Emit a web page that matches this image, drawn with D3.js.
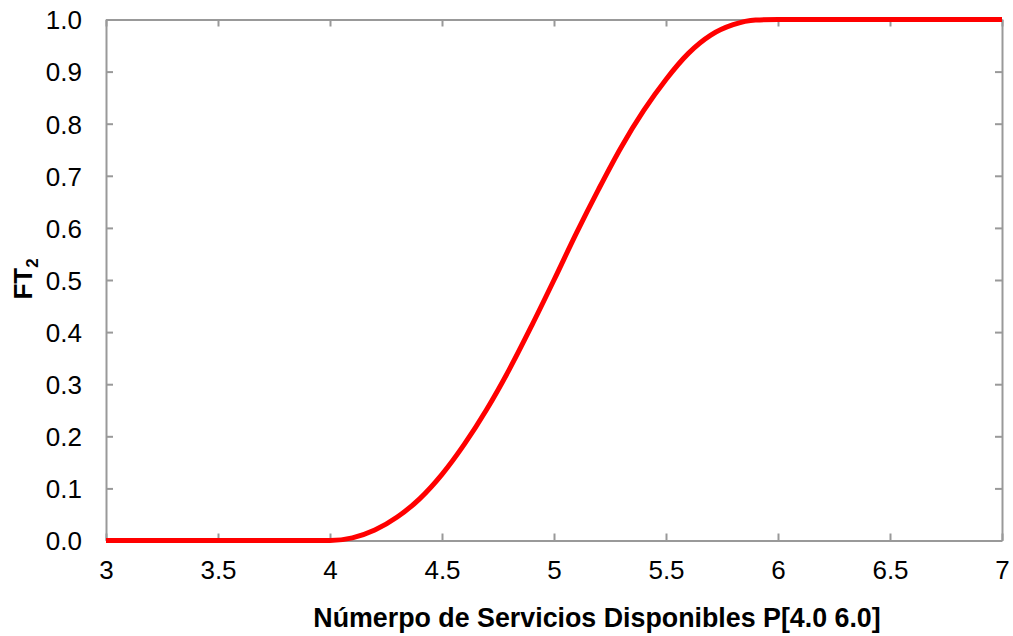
<!DOCTYPE html>
<html>
<head>
<meta charset="utf-8">
<script src="https://cdn.jsdelivr.net/npm/d3@7"></script>
<style>
  body { margin: 0; background: #fff; }
  svg { display: block; font-family: "Liberation Sans", Arial, sans-serif; }
  .axis path, .axis line { stroke: #999; stroke-width: 2; }
  .axis text { fill: #000; font-size: 26px; }
</style>
</head>
<body>
<script>
	var width = 1013;
	var height = 636;

	// values
	var xValues = [3, 3.5, 4, 4.1, 4.2, 4.3, 4.4, 4.5, 4.6, 4.7, 4.8, 4.9, 5, 5.1, 5.2, 5.3, 5.4, 5.5, 5.6, 5.7, 5.8, 5.9, 6, 6.5, 7];
	var ftValues = [0, 0, 0, 0.005, 0.02, 0.045, 0.08, 0.127, 0.185, 0.252, 0.328, 0.412, 0.5, 0.59, 0.675, 0.755, 0.825, 0.885, 0.935, 0.97, 0.99, 0.999, 1, 1, 1];
	var xTicks = [3, 3.5, 4, 4.5, 5, 5.5, 6, 6.5, 7];
	var yTicks = [0, 0.1, 0.2, 0.3, 0.4, 0.5, 0.6, 0.7, 0.8, 0.9, 1];
	var xTitle = "Númerpo de Servicios Disponibles P[4.0 6.0]";

	var margin = { left: 106, right: 11, top: 19.5, bottom: 95.5 };

	var svg = d3.select("body")
		.append("svg")
		.attr("width", width)
		.attr("height", height);

	var x = d3.scaleLinear()
		.domain([3, 7])
		.range([margin.left, width - margin.right]);

	var y = d3.scaleLinear()
		.domain([0, 1])
		.range([height - margin.bottom, margin.top]);

	// mirrored axes on top and right, ticks only
	svg.append("g")
		.attr("class", "axis")
		.attr("transform", "translate(0," + y(1) + ")")
		.call(d3.axisTop(x).tickValues(xTicks).tickSizeInner(-7).tickSizeOuter(0).tickFormat(""));

	svg.append("g")
		.attr("class", "axis")
		.attr("transform", "translate(" + x(7) + ",0)")
		.call(d3.axisRight(y).tickValues(yTicks).tickSizeInner(-7).tickSizeOuter(0).tickFormat(""));

	// bottom axis
	var xAxis = svg.append("g")
		.attr("class", "axis")
		.attr("transform", "translate(0," + y(0) + ")")
		.call(d3.axisBottom(x).tickValues(xTicks).tickSizeInner(-7).tickSizeOuter(0).tickPadding(0).tickFormat(d3.format("")));
	xAxis.selectAll("text").attr("y", 20).attr("dy", "0.71em");

	// left axis
	var yAxis = svg.append("g")
		.attr("class", "axis")
		.attr("transform", "translate(" + x(3) + ",0)")
		.call(d3.axisLeft(y).tickValues(yTicks).tickSizeInner(-7).tickSizeOuter(0).tickFormat(d3.format(".1f")));
	yAxis.selectAll("text").attr("x", -24).attr("dy", "0.36em");

	// the curve
	var line = d3.line()
		.x(function(d, i) { return x(xValues[i]); })
		.y(function(d) { return y(d); })
		.curve(d3.curveMonotoneX);

	svg.append("path")
		.datum(ftValues)
		.attr("fill", "none")
		.attr("stroke", "#ff0000")
		.attr("stroke-width", 5)
		.attr("stroke-linejoin", "round")
		.attr("d", line);

	// axis titles
	svg.append("text")
		.attr("x", 597)
		.attr("y", 627)
		.attr("text-anchor", "middle")
		.style("font-size", "26.8px")
		.style("font-weight", "bold")
		.text(xTitle);

	var yTitle = svg.append("text")
		.attr("transform", "translate(32," + (y(0.5) - 1) + ") rotate(-90)")
		.attr("text-anchor", "middle")
		.style("font-size", "26px")
		.style("font-weight", "bold");
	yTitle.append("tspan").text("FT");
	yTitle.append("tspan").attr("dy", 6).style("font-size", "17px").text("2");
</script>
</body>
</html>
